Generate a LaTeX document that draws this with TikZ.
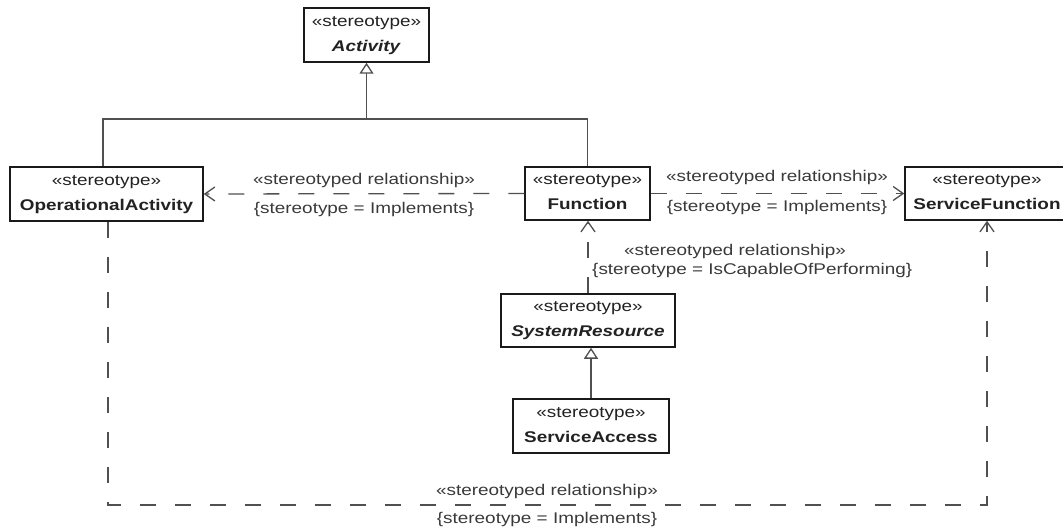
\documentclass[tikz,border=0pt]{standalone}
\usepackage{fontspec}
\setmainfont{Liberation Sans}[FakeStretch=1.22]
\usetikzlibrary{arrows.meta}
\definecolor{boxline}{HTML}{1A1A1A}
\definecolor{conn}{HTML}{505050}
\definecolor{txtc}{HTML}{222222}
\definecolor{lblc}{HTML}{3A3A3A}
\tikzset{
  umlbox/.style={draw=boxline, line width=1.5pt, fill=white, inner sep=0pt,
    align=center, text=txtc, font=\fontsize{15.5}{25}\selectfont},
  gen/.style={draw=conn, line width=1.3pt,
    -{Triangle[fill=white, length=11pt, width=14pt]}},
  genline/.style={draw=conn, line width=1.3pt},
  dep/.style={draw=conn, line width=1.3pt, dash pattern=on 16pt off 19pt,
    -{Straight Barb[length=10pt, width=14pt]}},
  lbl/.style={text=lblc, font=\fontsize{15.5}{18}\selectfont, inner sep=0pt},
}
\newcommand{\umltext}[1]{\rule{0pt}{12pt}«stereotype»\\#1\rule[-4pt]{0pt}{4pt}}
\begin{document}
\begin{tikzpicture}[x=1pt, y=-1pt]
  \fill[white] (0,0) rectangle (1063,529);
  \useasboundingbox (0,0) rectangle (1063,529);

  % boxes
  \node[umlbox, minimum width=125pt, minimum height=54pt] (Act) at (366.5,35)
    {\umltext{\textbf{\textit{Activity}}}};
  \node[umlbox, minimum width=193pt, minimum height=54pt] (OA) at (106.5,194)
    {\umltext{\textbf{OperationalActivity}}};
  \node[umlbox, minimum width=125pt, minimum height=53pt] (Fn) at (587.5,193.5)
    {\umltext{\textbf{Function}}};
  \node[umlbox, minimum width=164pt, minimum height=53pt] (SF) at (987,193.5)
    {\umltext{\textbf{ServiceFunction}}};
  \node[umlbox, minimum width=174pt, minimum height=53pt] (SR) at (588,320.5)
    {\umltext{\textbf{\textit{SystemResource}}}};
  \node[umlbox, minimum width=156pt, minimum height=54pt] (SA) at (591,426)
    {\umltext{\textbf{ServiceAccess}}};

  % generalizations
  \coordinate (j) at (366.5,119);
  \draw[gen] (j) -- (Act.south);
  \draw[genline] ([xshift=-3.5pt]OA.north) |- (j) -| (Fn.north);
  \draw[gen] (SA.north) -- (SA.north |- SR.south);

  % dependencies
  \draw[dep] (Fn.west) -- (OA.east);
  \node[lbl, anchor=base] (l1) at (364,185) {«stereotyped relationship»};
  \node[lbl, anchor=base] (l2) at (364,214) {\{stereotype = Implements\}};

  \draw[dep] (Fn.east) -- (SF.west);
  \node[lbl, anchor=base] (l3) at (777,182) {«stereotyped relationship»};
  \node[lbl, anchor=base] (l4) at (777,212) {\{stereotype = Implements\}};

  \draw[dep] (SR.north) -- (SR.north |- Fn.south);
  \node[lbl, anchor=base] (l5) at (735,256) {«stereotyped relationship»};
  \node[lbl, anchor=base west] (l6) at (592,275) {\{stereotype = IsCapableOfPerforming\}};

  \coordinate (c2) at (987,505);
  \draw[dep] ([xshift=1.5pt]OA.south) |- (c2) -- (SF.south);
  \node[lbl, anchor=base] (l7) at (547,495) {«stereotyped relationship»};
  \node[lbl, anchor=base] (l8) at (547,523) {\{stereotype = Implements\}};
\end{tikzpicture}
\end{document}
